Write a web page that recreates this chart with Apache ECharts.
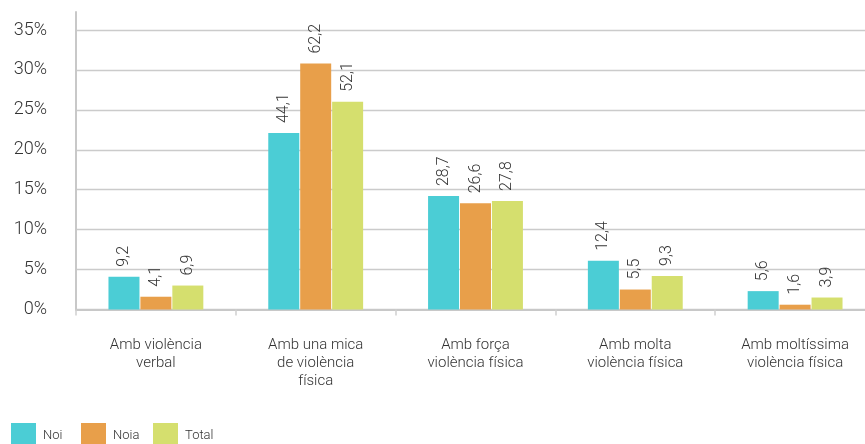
<!DOCTYPE html>
<html>
<head>
<meta charset="utf-8">
<script src="https://cdn.jsdelivr.net/npm/echarts@6/dist/echarts.min.js"></script>
<style>
html,body{margin:0;padding:0;background:#fff;}
#chart{width:865px;height:444px;}
</style>
</head>
<body>
<div id="chart"></div>
<script>
const categories = ["Amb violència\nverbal", "Amb una mica\nde violència\nfísica", "Amb força\nviolència física", "Amb molta\nviolència física", "Amb moltíssima\nviolència física"];
const seriesNames = ["Noi", "Noia", "Total"];
const noiBars = [4.1, 22.1, 14.2, 6.1, 2.3];
const noiaBars = [1.6, 30.8, 13.3, 2.5, 0.6];
const totalBars = [3.0, 26.0, 13.6, 4.2, 1.5];
// value labels printed above the bars
const noiLabels = [9.2, 44.1, 28.7, 12.4, 5.6];
const noiaLabels = [4.1, 62.2, 26.6, 5.5, 1.6];
const totalLabels = [6.9, 52.1, 27.8, 9.3, 3.9];
const yTicks = [0, 5, 10, 15, 20, 25, 30, 35];

const colors = ["#4BCDD5", "#E89F4A", "#D5DF6E"];
const FONT = "Roboto";
const FW = 300;
const TXT = "#333333";

function mkSeries(name, bars, labels, color) {
  return {
    name: name, type: "bar", xAxisIndex: 0, yAxisIndex: 0,
    data: bars, barWidth: 31, barGap: "3%",
    itemStyle: { color: color },
    label: {
      show: true, position: "top", rotate: 90, align: "left", verticalAlign: "middle",
      distance: 10, fontFamily: FONT, fontWeight: FW, fontSize: 16, color: TXT,
      formatter: p => labels[p.dataIndex].toFixed(1).replace(".", ",")
    }
  };
}

const chart = echarts.init(document.getElementById("chart"), null, { renderer: "canvas" });
chart.setOption({
  animation: false,
  textStyle: { fontFamily: FONT, fontWeight: FW },
  grid: [
    { left: 76, width: 799, top: 30, bottom: 134.5, outerBoundsMode: "none", containLabel: false },
    { left: 76, width: 1, top: 12, bottom: 134.5, outerBoundsMode: "none", containLabel: false }
  ],
  legend: [0, 1, 2].map(i => ({
    data: [seriesNames[i]], left: [11, 81, 153][i], top: 423, padding: 0,
    itemWidth: 25, itemHeight: 25, itemGap: 0, icon: "rect",
    textStyle: { fontFamily: FONT, fontWeight: FW, fontSize: 13, color: TXT, padding: [4, 0, 0, 2] },
    selectedMode: false
  })),
  xAxis: [
    {
      type: "category", data: categories, gridIndex: 0,
      axisLine: { lineStyle: { color: "#c8c8c8", width: 2 } },
      axisTick: { show: true, length: 6, lineStyle: { color: "#d0d0d0", width: 1.5 } },
      axisLabel: { fontFamily: FONT, fontWeight: FW, fontSize: 15, color: TXT, lineHeight: 18, margin: 27, interval: 0 }
    },
    { type: "category", gridIndex: 1, show: false, data: [""] }
  ],
  yAxis: [
    {
      type: "value", gridIndex: 0, min: 0, max: 35, interval: 5,
      axisLine: { show: false }, axisTick: { show: false },
      splitLine: { lineStyle: { color: "#cbcbcb", width: 1.3 } },
      axisLabel: {
        fontFamily: FONT, fontWeight: FW, fontSize: 18, color: TXT, margin: 29,
        formatter: v => (yTicks.indexOf(v) >= 0 ? v + "%" : "")
      }
    },
    {
      type: "value", gridIndex: 1, min: 0, max: 1,
      axisLine: { show: true, lineStyle: { color: "#c8c8c8", width: 2 } },
      axisTick: { show: false }, axisLabel: { show: false }, splitLine: { show: false }
    }
  ],
  series: [
    mkSeries(seriesNames[0], noiBars, noiLabels, colors[0]),
    mkSeries(seriesNames[1], noiaBars, noiaLabels, colors[1]),
    mkSeries(seriesNames[2], totalBars, totalLabels, colors[2])
  ]
});
</script>
</body>
</html>
